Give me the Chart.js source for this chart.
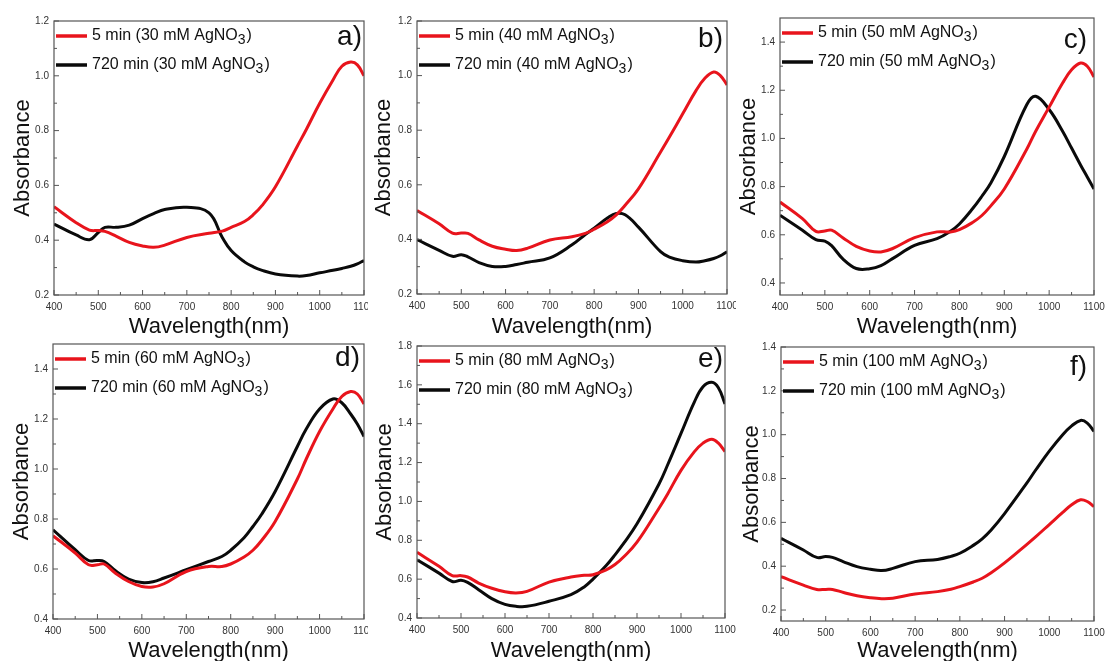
<!DOCTYPE html>
<html lang="en">
<head>
<meta charset="UTF-8">
<title>Absorbance spectra</title>
<script src="https://cdn.jsdelivr.net/npm/chart.js"></script>
<style>
  html, body { margin: 0; padding: 0; background: #fff; overflow: hidden; width: 1105px; height: 661px; }
  .panel { position: absolute; }
</style>
</head>
<body>
<div class="panel" style="left:0px;top:0px;width:368px;height:345px"><canvas id="chartA"></canvas></div>
<div class="panel" style="left:368px;top:0px;width:368px;height:345px"><canvas id="chartB"></canvas></div>
<div class="panel" style="left:736px;top:0px;width:369px;height:345px"><canvas id="chartC"></canvas></div>
<div class="panel" style="left:0px;top:330px;width:368px;height:350px"><canvas id="chartD"></canvas></div>
<div class="panel" style="left:368px;top:330px;width:368px;height:350px"><canvas id="chartE"></canvas></div>
<div class="panel" style="left:736px;top:330px;width:369px;height:350px"><canvas id="chartF"></canvas></div>

<script>
// wavelengths (nm) sampled for every curve
const wavelength = [400, 450, 480, 500, 515, 540, 570, 600, 625, 650, 700, 750, 780, 800, 830, 850, 870, 900, 950, 970, 1000, 1030, 1050, 1070, 1085, 1100];

// a) 30 mM
const red30   = [.522, .464, .437, .435, .432, .415, .392, .379, .374, .382, .41, .425, .433, .447, .468, .493, .527, .595, .745, .805, .90, .985, 1.035, 1.05, 1.04, 1.0];
const black30 = [.459, .419, .402, .428, .447, .447, .455, .479, .497, .512, .52, .50, .41, .362, .321, .303, .29, .277, .269, .271, .281, .29, .297, .305, .314, .326];
// b) 40 mM
const red40   = [.506, .457, .423, .423, .422, .398, .375, .364, .359, .368, .398, .41, .422, .437, .465, .49, .525, .585, .72, .775, .86, .945, .99, 1.013, 1.0, .966];
const black40 = [.399, .36, .338, .344, .336, .315, .301, .301, .308, .316, .332, .38, .418, .441, .478, .495, .49, .445, .355, .335, .322, .317, .322, .33, .34, .355];
// c) 50 mM
const red50   = [.736, .667, .614, .616, .619, .588, .552, .533, .529, .542, .588, .612, .612, .621, .652, .68, .72, .79, .955, 1.03, 1.13, 1.23, 1.285, 1.313, 1.30, 1.255];
const black50 = [.681, .619, .58, .574, .555, .50, .46, .459, .472, .50, .556, .584, .615, .645, .71, .76, .815, .925, 1.14, 1.175, 1.12, 1.03, .96, .89, .84, .79];
// d) 60 mM
const red60   = [.733, .664, .617, .617, .62, .584, .55, .53, .528, .541, .59, .61, .61, .62, .648, .675, .715, .79, .96, 1.04, 1.15, 1.24, 1.29, 1.31, 1.30, 1.26];
const black60 = [.757, .677, .634, .634, .63, .594, .56, .546, .549, .564, .597, .63, .65, .675, .725, .77, .82, .91, 1.09, 1.16, 1.24, 1.28, 1.265, 1.22, 1.18, 1.13];
// e) 80 mM
const red80   = [.738, .666, .618, .618, .611, .58, .553, .535, .529, .537, .585, .611, .62, .623, .648, .675, .715, .79, .965, 1.04, 1.16, 1.255, 1.30, 1.32, 1.30, 1.257];
const black80 = [.70, .631, .588, .594, .583, .546, .50, .47, .46, .46, .486, .52, .56, .60, .67, .725, .785, .885, 1.09, 1.19, 1.35, 1.51, 1.59, 1.613, 1.585, 1.502];
// f) 100 mM
const red100   = [.352, .314, .294, .294, .294, .28, .265, .256, .252, .254, .273, .284, .295, .307, .328, .345, .37, .415, .50, .535, .59, .645, .68, .703, .695, .672];
const black100 = [.527, .474, .44, .444, .44, .42, .398, .386, .38, .39, .421, .431, .445, .459, .495, .525, .565, .64, .78, .84, .925, 1.0, 1.04, 1.065, 1.053, 1.015];

// tick labels
const xTicks = [400, 500, 600, 700, 800, 900, 1000, 1100];
const yTicksAB = [0.2, 0.4, 0.6, 0.8, 1.0, 1.2];
const yTicksCD = [0.4, 0.6, 0.8, 1.0, 1.2, 1.4];
const yTicksE = [0.4, 0.6, 0.8, 1.0, 1.2, 1.4, 1.6, 1.8];
const yTicksF = [0.2, 0.4, 0.6, 0.8, 1.0, 1.2, 1.4];

const FONT = 'Liberation Sans, Arial, sans-serif';
const RED = '#e8141c';
const BLACK = '#0a0a0a';

const minorOf = arr => arr.slice(1).map((v, i) => (v + arr[i]) / 2);

// frame, inward ticks, in-plot legend and panel letter
const decorations = {
    id: 'decorations',
    afterDraw(chart, args, opts) {
        const { ctx, chartArea: a, scales: { x, y } } = chart;
        ctx.save();
        ctx.strokeStyle = '#555';
        ctx.lineWidth = 1.2;
        ctx.strokeRect(a.left, a.top, a.right - a.left, a.bottom - a.top);

        ctx.beginPath();
        ctx.lineWidth = 1;
        xTicks.forEach(v => { const p = x.getPixelForValue(v); ctx.moveTo(p, a.bottom); ctx.lineTo(p, a.bottom - 5); });
        minorOf(xTicks).forEach(v => { const p = x.getPixelForValue(v); ctx.moveTo(p, a.bottom); ctx.lineTo(p, a.bottom - 3); });
        opts.yTicks.forEach(v => { const p = y.getPixelForValue(v); ctx.moveTo(a.left, p); ctx.lineTo(a.left + 5, p); });
        minorOf(opts.yTicks).forEach(v => { const p = y.getPixelForValue(v); ctx.moveTo(a.left, p); ctx.lineTo(a.left + 3, p); });
        ctx.stroke();

        // legend
        chart.data.datasets.forEach((ds, i) => {
            const lx = a.left + 2;
            const ly = a.top + 15 + i * 29;
            ctx.strokeStyle = ds.borderColor;
            ctx.lineWidth = 3.5;
            ctx.beginPath();
            ctx.moveTo(lx, ly);
            ctx.lineTo(lx + 31, ly);
            ctx.stroke();

            const parts = ds.label.split('₃');
            let tx = lx + 36;
            ctx.fillStyle = '#111';
            ctx.textBaseline = 'middle';
            ctx.textAlign = 'left';
            ctx.font = '16px ' + FONT;
            ctx.fillText(parts[0], tx, ly);
            tx += ctx.measureText(parts[0]).width;
            ctx.font = '14px ' + FONT;
            ctx.fillText('3', tx, ly + 4);
            tx += ctx.measureText('3').width + 1;
            ctx.font = '16px ' + FONT;
            ctx.fillText(parts[1], tx, ly);
        });

        ctx.font = '28px ' + FONT;
        ctx.fillStyle = '#111';
        ctx.textAlign = 'right';
        ctx.textBaseline = 'middle';
        ctx.fillText(opts.letter, a.right - opts.letterDx, a.top + opts.letterDy);
        ctx.restore();
    }
};

function makeChart(p) {
    const points = arr => wavelength.map((w, i) => ({ x: w, y: arr[i] }));
    new Chart(document.getElementById(p.id), {
        type: 'line',
        data: {
            datasets: [
                { label: '5 min (' + p.conc + ' mM AgNO₃)', data: points(p.red), borderColor: RED, borderWidth: 3, pointRadius: 0, tension: 0.4 },
                { label: '720 min (' + p.conc + ' mM AgNO₃)', data: points(p.black), borderColor: BLACK, borderWidth: 3, pointRadius: 0, tension: 0.4 }
            ]
        },
        options: {
            responsive: true,
            maintainAspectRatio: false,
            animation: false,
            events: [],
            layout: { padding: { left: 0, top: p.T - p.cy, right: p.cx + p.cw - p.R, bottom: 0 } },
            plugins: {
                legend: { display: false },
                tooltip: { enabled: false },
                decorations: { yTicks: p.yTicks, letter: p.letter, letterDx: p.letterDx, letterDy: p.letterDy }
            },
            scales: {
                x: {
                    type: 'linear', min: 400, max: 1100,
                    afterBuildTicks: axis => { axis.ticks = xTicks.map(v => ({ value: v })); },
                    afterFit: axis => { axis.height = p.cy + p.ch - p.B; axis.paddingLeft = 0; axis.paddingRight = 0; },
                    grid: { display: false, drawTicks: false },
                    border: { display: false },
                    ticks: { font: { size: 10, family: FONT }, color: '#333', padding: 6, maxRotation: 0, autoSkip: false, callback: v => v },
                    title: { display: true, text: 'Wavelength(nm)', color: '#111', font: { size: 22, family: FONT }, padding: { top: 0, bottom: p.cy + p.ch - p.xTitle - 13.2 } }
                },
                y: {
                    min: p.yMin, max: p.yMax,
                    afterBuildTicks: axis => { axis.ticks = p.yTicks.map(v => ({ value: v })); },
                    afterFit: axis => { axis.width = p.L - p.cx; axis.paddingTop = 0; axis.paddingBottom = 0; },
                    grid: { display: false, drawTicks: false },
                    border: { display: false },
                    ticks: { font: { size: 10, family: FONT }, color: '#333', padding: 5, autoSkip: false, callback: v => v.toFixed(1) },
                    title: { display: true, text: 'Absorbance', color: '#111', font: { size: 22, family: FONT }, padding: { top: Math.max(0, p.yTitle - p.cx - 13.2), bottom: 0 } }
                }
            }
        },
        plugins: [decorations]
    });
}

const panels = [
    { id: 'chartA', letter: 'a)', conc: 30, red: red30, black: black30, yMin: 0.2, yMax: 1.2, yTicks: yTicksAB,
      cx: 0, cy: 0, cw: 368, ch: 345, L: 54, R: 364, T: 21, B: 295, xTitle: 327, yTitle: 23, letterDx: 2, letterDy: 16 },
    { id: 'chartB', letter: 'b)', conc: 40, red: red40, black: black40, yMin: 0.2, yMax: 1.2, yTicks: yTicksAB,
      cx: 368, cy: 0, cw: 368, ch: 345, L: 417, R: 727, T: 21, B: 294, xTitle: 327, yTitle: 384, letterDx: 4, letterDy: 18 },
    { id: 'chartC', letter: 'c)', conc: 50, red: red50, black: black50, yMin: 0.35, yMax: 1.5, yTicks: yTicksCD,
      cx: 736, cy: 0, cw: 369, ch: 345, L: 780, R: 1094, T: 18, B: 295, xTitle: 327, yTitle: 749, letterDx: 7, letterDy: 22 },
    { id: 'chartD', letter: 'd)', conc: 60, red: red60, black: black60, yMin: 0.4, yMax: 1.5, yTicks: yTicksCD,
      cx: 0, cy: 330, cw: 368, ch: 350, L: 53, R: 364, T: 344, B: 619, xTitle: 651, yTitle: 22, letterDx: 4, letterDy: 14 },
    { id: 'chartE', letter: 'e)', conc: 80, red: red80, black: black80, yMin: 0.4, yMax: 1.8, yTicks: yTicksE,
      cx: 368, cy: 330, cw: 368, ch: 350, L: 417, R: 725, T: 346, B: 618, xTitle: 651, yTitle: 385, letterDx: 2, letterDy: 13 },
    { id: 'chartF', letter: 'f)', conc: 100, red: red100, black: black100, yMin: 0.15, yMax: 1.4, yTicks: yTicksF,
      cx: 736, cy: 330, cw: 369, ch: 350, L: 781, R: 1094, T: 347, B: 621, xTitle: 651, yTitle: 752, letterDx: 7, letterDy: 20 }
];

panels.forEach(makeChart);
</script>
</body>
</html>
